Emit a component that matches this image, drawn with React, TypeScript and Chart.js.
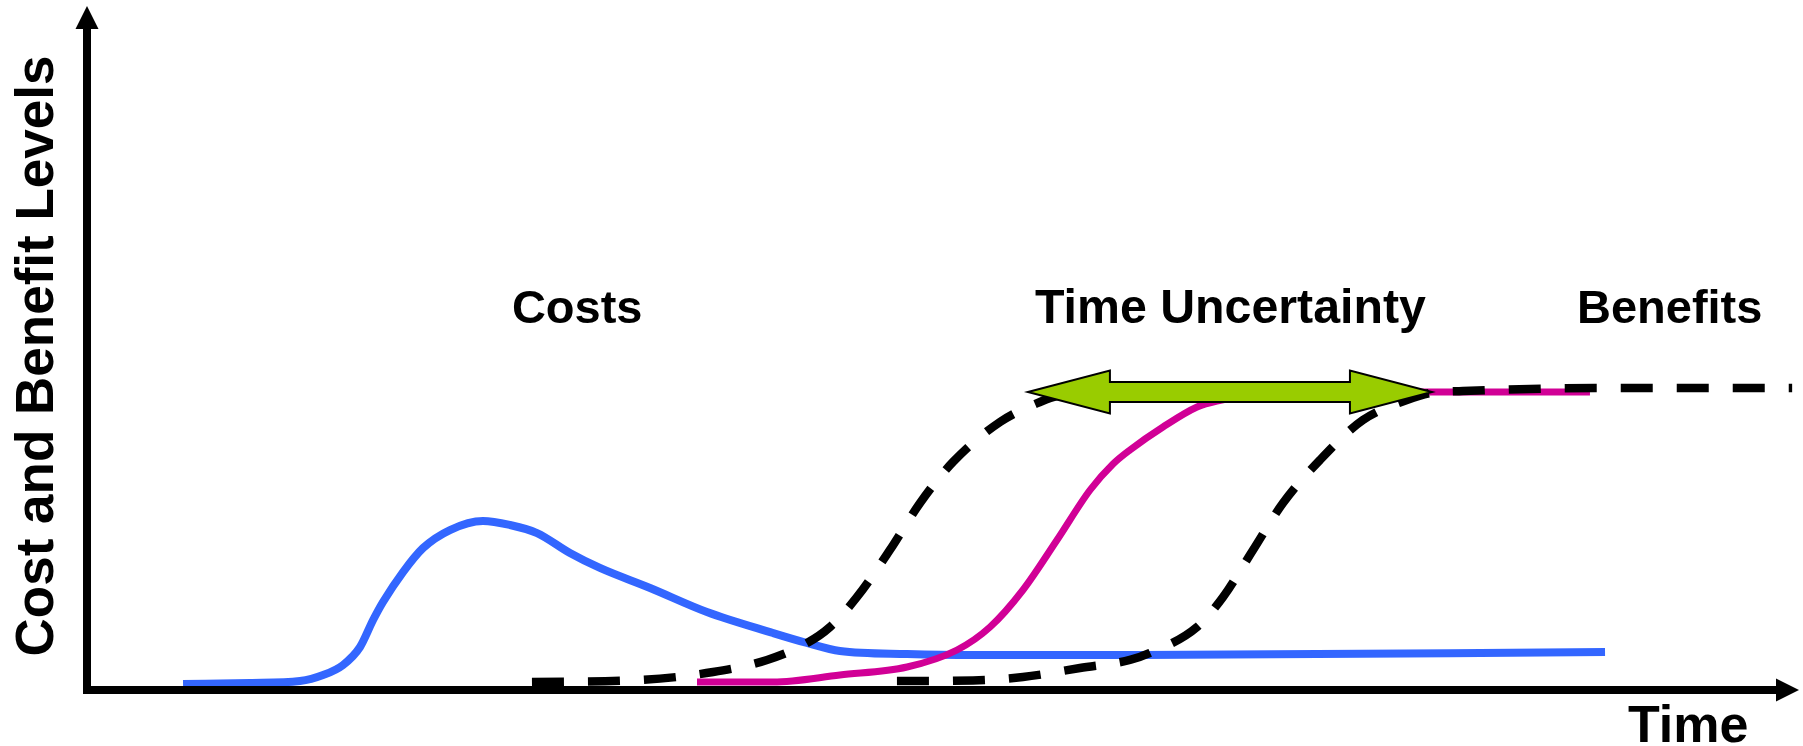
import { useEffect, useRef } from 'react';
import { Chart, registerables } from 'chart.js';

Chart.register(...registerables);

// Costs curve (blue)
const costTime = [5.61, 9.52, 12.44, 13.79, 14.95, 15.95, 16.71, 17.29, 18.46, 19.63, 21.2, 23.13, 24.71, 26.29, 28.21, 29.96, 32.89, 36.21, 40.07, 42.06, 43.98, 47.9, 51.75, 61.51, 88.67];
const costLevel = [0.88, 1.02, 1.32, 2.19, 3.65, 6.29, 10.23, 12.87, 17.25, 20.76, 23.39, 24.71, 24.12, 22.95, 20.03, 17.84, 14.91, 11.4, 8.33, 6.87, 5.7, 5.26, 5.12, 5.12, 5.56];

// Expected benefits curve (magenta)
const benefitTime = [35.63, 40.07, 43.98, 47.9, 50.82, 52.75, 54.67, 56.66, 58.59, 59.93, 60.92, 62.85, 64.84, 66.0, 68.52, 78.45, 87.79];
const benefitLevel = [1.17, 1.17, 2.19, 3.36, 5.85, 9.21, 14.62, 21.93, 29.24, 33.04, 35.09, 38.45, 41.37, 42.25, 43.13, 43.57, 43.57];

// Early benefits bound (dashed)
const earlyTime = [25.99, 32.3, 36.57, 39.72, 42.06, 43.4, 44.98, 46.9, 48.66, 50.58, 53.33, 55.67, 56.66, 60.34];
const earlyLevel = [1.17, 1.46, 2.63, 4.39, 6.87, 9.21, 13.6, 20.47, 27.34, 33.33, 39.18, 42.11, 42.98, 43.57];

// Late benefits bound (dashed)
const lateTime = [47.31, 51.75, 54.67, 58.0, 60.92, 62.09, 64.84, 66.36, 68.11, 69.86, 72.02, 74.53, 77.1, 78.45, 80.37, 84.29, 88.2, 99.6];
const lateLevel = [1.3, 1.4, 1.9, 3.22, 4.39, 5.41, 9.21, 13.6, 20.47, 27.34, 33.63, 39.47, 42.4, 43.42, 43.71, 44.01, 44.15, 44.15];

// Time-uncertainty span (green double arrow)
const uncertaintySpan = [54.96, 78.56];
const uncertaintyLevel = 43.57;

// Text labels
const yAxisTitle = 'Cost and Benefit Levels';
const xAxisTitle = 'Time';
const noteLabels = ['Costs', 'Time Uncertainty', 'Benefits'];
const noteTime = [24.82, 55.37, 87.03];
const noteLevel = 53.65;
const noteFontSizes = [47, 48.3, 47];

const zip = (xs: number[], ys: number[]) => xs.map((v, i) => ({ x: v, y: ys[i] }));

const FONT = '"Liberation Sans", Arial, Helvetica, sans-serif';

const diagramPlugin = {
  id: 'diagram',
  afterDatasetsDraw(chart: any) {
    const { ctx, chartArea: a, scales } = chart;
    const xs = scales.x;
    const ys = scales.y;
    ctx.save();

    // axes
    ctx.strokeStyle = '#000';
    ctx.lineWidth = 8;
    ctx.lineCap = 'butt';
    ctx.beginPath();
    ctx.moveTo(a.left, a.bottom + 4);
    ctx.lineTo(a.left, a.top + 20);
    ctx.moveTo(a.left - 4, a.bottom);
    ctx.lineTo(a.right - 20, a.bottom);
    ctx.stroke();

    ctx.fillStyle = '#000';
    ctx.beginPath();
    ctx.moveTo(a.left, a.top);
    ctx.lineTo(a.left - 11.5, a.top + 23);
    ctx.lineTo(a.left + 11.5, a.top + 23);
    ctx.closePath();
    ctx.fill();
    ctx.beginPath();
    ctx.moveTo(a.right, a.bottom);
    ctx.lineTo(a.right - 23, a.bottom - 11.5);
    ctx.lineTo(a.right - 23, a.bottom + 11.5);
    ctx.closePath();
    ctx.fill();

    // green double arrow
    const xl = xs.getPixelForValue(uncertaintySpan[0]);
    const xr = xs.getPixelForValue(uncertaintySpan[1]);
    const yc = ys.getPixelForValue(uncertaintyLevel);
    const hl = 82;
    const hh = 21.5;
    const sh = 10;
    ctx.beginPath();
    ctx.moveTo(xl, yc);
    ctx.lineTo(xl + hl, yc - hh);
    ctx.lineTo(xl + hl, yc - sh);
    ctx.lineTo(xr - hl, yc - sh);
    ctx.lineTo(xr - hl, yc - hh);
    ctx.lineTo(xr, yc);
    ctx.lineTo(xr - hl, yc + hh);
    ctx.lineTo(xr - hl, yc + sh);
    ctx.lineTo(xl + hl, yc + sh);
    ctx.lineTo(xl + hl, yc + hh);
    ctx.closePath();
    ctx.fillStyle = '#99CC00';
    ctx.fill();
    ctx.lineWidth = 2;
    ctx.lineJoin = 'miter';
    ctx.strokeStyle = '#000';
    ctx.stroke();

    // notes
    ctx.fillStyle = '#000';
    ctx.textAlign = 'left';
    ctx.textBaseline = 'alphabetic';
    noteLabels.forEach((t, i) => {
      ctx.font = `bold ${noteFontSizes[i]}px ${FONT}`;
      ctx.fillText(t, xs.getPixelForValue(noteTime[i]), ys.getPixelForValue(noteLevel));
    });

    // axis titles
    ctx.font = `bold 52px ${FONT}`;
    ctx.fillText(xAxisTitle, 1628, 742);

    ctx.save();
    ctx.translate(53, 356);
    ctx.rotate(-Math.PI / 2);
    ctx.textAlign = 'center';
    ctx.font = `bold 53px ${FONT}`;
    ctx.fillText(yAxisTitle, 0, 0);
    ctx.restore();

    ctx.restore();
  },
};

export default function App() {
  const ref = useRef<HTMLCanvasElement>(null);
  useEffect(() => {
    document.body.style.margin = '0';
    const canvas = ref.current as HTMLCanvasElement;
    const chart = new Chart(canvas, {
      type: 'line',
      data: {
        datasets: [
          {
            label: 'Late',
            data: zip(lateTime, lateLevel),
            borderColor: '#000',
            borderWidth: 8.5,
            borderDash: [32, 24],
            borderCapStyle: 'butt',
            pointRadius: 0,
            cubicInterpolationMode: 'monotone',
            order: 0,
          },
          {
            label: 'Early',
            data: zip(earlyTime, earlyLevel),
            borderColor: '#000',
            borderWidth: 8.5,
            borderDash: [32, 24],
            borderCapStyle: 'butt',
            pointRadius: 0,
            cubicInterpolationMode: 'monotone',
            order: 1,
          },
          {
            label: 'Benefits',
            data: zip(benefitTime, benefitLevel),
            borderColor: '#D10096',
            borderWidth: 7,
            pointRadius: 0,
            cubicInterpolationMode: 'monotone',
            order: 2,
          },
          {
            label: 'Costs',
            data: zip(costTime, costLevel),
            borderColor: '#3366FF',
            borderWidth: 8,
            pointRadius: 0,
            cubicInterpolationMode: 'monotone',
            order: 3,
          },
        ],
      },
      options: {
        animation: false,
        responsive: false,
        devicePixelRatio: 1,
        layout: { padding: { left: 87, top: 6, right: 4, bottom: 56 } },
        plugins: { legend: { display: false }, tooltip: { enabled: false } },
        events: [],
        scales: {
          x: { type: 'linear', min: 0, max: 100, display: false },
          y: { type: 'linear', min: 0, max: 100, display: false },
        },
      },
      plugins: [diagramPlugin],
    } as any);
    return () => chart.destroy();
  }, []);
  return (
    <canvas
      ref={ref}
      width={1803}
      height={746}
      style={{ display: 'block', width: 1803, height: 746 }}
    />
  );
}
